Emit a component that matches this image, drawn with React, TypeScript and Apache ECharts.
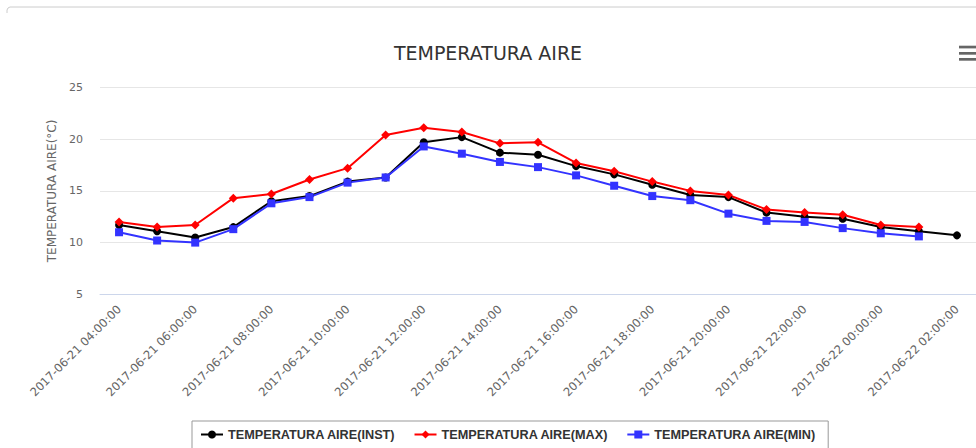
import React, { useEffect, useRef } from "react";
import * as echarts from "echarts";

const categories = [
  "2017-06-21 04:00:00", "2017-06-21 05:00:00", "2017-06-21 06:00:00", "2017-06-21 07:00:00",
  "2017-06-21 08:00:00", "2017-06-21 09:00:00", "2017-06-21 10:00:00", "2017-06-21 11:00:00",
  "2017-06-21 12:00:00", "2017-06-21 13:00:00", "2017-06-21 14:00:00", "2017-06-21 15:00:00",
  "2017-06-21 16:00:00", "2017-06-21 17:00:00", "2017-06-21 18:00:00", "2017-06-21 19:00:00",
  "2017-06-21 20:00:00", "2017-06-21 21:00:00", "2017-06-21 22:00:00", "2017-06-21 23:00:00",
  "2017-06-22 00:00:00", "2017-06-22 01:00:00", "2017-06-22 02:00:00",
];

const tempInst = [11.7, 11.1, 10.5, 11.5, 14.0, 14.5, 15.9, 16.3, 19.7, 20.2, 18.7, 18.5,
  17.4, 16.6, 15.6, 14.6, 14.4, 12.9, 12.5, 12.3, 11.5, 11.1, 10.7];
const tempMax = [12.0, 11.5, 11.7, 14.3, 14.7, 16.1, 17.2, 20.4, 21.1, 20.7, 19.6, 19.7,
  17.7, 16.9, 15.9, 15.0, 14.6, 13.2, 12.9, 12.7, 11.7, 11.5, null];
const tempMin = [11.0, 10.2, 10.0, 11.3, 13.8, 14.4, 15.8, 16.3, 19.3, 18.6, 17.8, 17.3,
  16.5, 15.5, 14.5, 14.1, 12.8, 12.1, 12.0, 11.4, 10.9, 10.6, null];

const seriesNames = ["TEMPERATURA AIRE(INST)", "TEMPERATURA AIRE(MAX)", "TEMPERATURA AIRE(MIN)"];

export default function App() {
  const ref = useRef<HTMLDivElement>(null);
  useEffect(() => {
    if (!ref.current) return;
    const chart = echarts.init(ref.current, null, { renderer: "svg" });
    const mkSeries = (name: string, data: (number | null)[], color: string, symbol: string, size: number) => ({
      name,
      type: "line",
      data,
      symbol,
      symbolSize: size,
      showSymbol: true,
      lineStyle: { color, width: 2 },
      itemStyle: { color },
      emphasis: { disabled: true },
    });
    chart.setOption({
      animation: false,
      backgroundColor: "#ffffff",
      title: {
        text: "TEMPERATURA AIRE",
        left: "center",
        top: 38,
        textStyle: { fontFamily: "DejaVu Sans", fontSize: 19, fontWeight: "normal", color: "#333333" },
      },
      legend: {
        left: 192,
        top: 421,
        padding: [7, 12, 8, 8],
        borderColor: "#999999",
        borderWidth: 1,
        itemGap: 18,
        itemWidth: 22,
        itemHeight: 10,
        textStyle: { fontFamily: "Liberation Sans", fontSize: 12.7, fontWeight: "bold", color: "#333333" },
        data: seriesNames,
      },
      grid: { left: 100, top: 87.5, width: 881, height: 206.8, containLabel: false },
      xAxis: {
        type: "category",
        data: categories,
        boundaryGap: true,
        axisLine: { lineStyle: { color: "#ccd6eb", width: 1 } },
        axisTick: { interval: 0, length: 10, lineStyle: { color: "#ccd6eb" } },
        axisLabel: {
          interval: 1,
          rotate: 45,
          margin: 13,
          color: "#666666",
          fontFamily: "DejaVu Sans",
          fontSize: 11.6,
        },
        splitLine: { show: false },
      },
      yAxis: {
        type: "value",
        min: 5,
        max: 25,
        interval: 5,
        name: "TEMPERATURA AIRE(°C)",
        nameLocation: "middle",
        nameGap: 39,
        nameTextStyle: { color: "#666666", fontFamily: "DejaVu Sans", fontSize: 12 },
        axisLine: { show: false },
        axisTick: { show: false },
        axisLabel: { color: "#666666", fontFamily: "DejaVu Sans", fontSize: 11, margin: 17 },
        splitLine: { lineStyle: { color: "#e6e6e6", width: 1 } },
      },
      graphic: [
        {
          type: "polyline",
          shape: { points: [[7, 13], [7, 10], [8, 8], [10, 7], [976, 7]] },
          style: { stroke: "#cccccc", fill: "none", lineWidth: 1 },
          silent: true,
        },
        { type: "rect", shape: { x: 959, y: 45.7, width: 20, height: 2.7 }, style: { fill: "#666666" }, silent: true },
        { type: "rect", shape: { x: 959, y: 52, width: 20, height: 2.7 }, style: { fill: "#666666" }, silent: true },
        { type: "rect", shape: { x: 959, y: 58, width: 20, height: 2.7 }, style: { fill: "#666666" }, silent: true },
      ],
      series: [
        mkSeries(seriesNames[0], tempInst, "#000000", "circle", 8),
        mkSeries(seriesNames[1], tempMax, "#ff0000", "diamond", 9),
        mkSeries(seriesNames[2], tempMin, "#3333ff", "rect", 8),
      ],
    });
    return () => chart.dispose();
  }, []);
  return (
    <div
      ref={ref}
      style={{ position: "fixed", left: 0, top: 0, width: 976, height: 448 }}
    />
  );
}
